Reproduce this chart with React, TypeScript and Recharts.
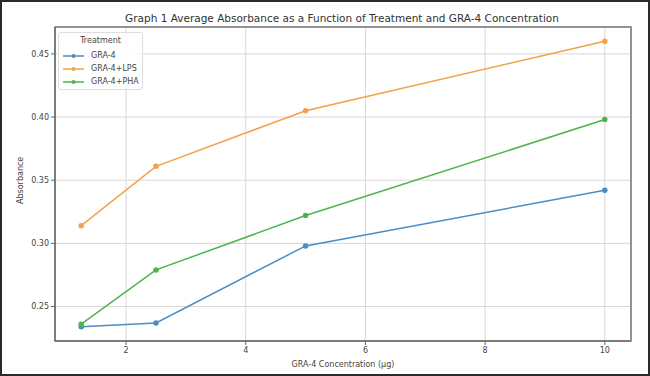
import { LineChart, Line, XAxis, YAxis, CartesianGrid, ReferenceArea } from 'recharts';

const concentrations = [1.25, 2.5, 5, 10];
const gra4 = [0.234, 0.237, 0.298, 0.342];
const gra4Lps = [0.314, 0.361, 0.405, 0.46];
const gra4Pha = [0.236, 0.279, 0.322, 0.398];
const xTicks = [2, 4, 6, 8, 10];
const yTicks = [0.25, 0.3, 0.35, 0.4, 0.45];

const seriesNames = ['GRA-4', 'GRA-4+LPS', 'GRA-4+PHA'];
const seriesColors = ['#4a8cc4', '#f5a04a', '#4db34d'];

const data = concentrations.map((c, i) => ({
  conc: c,
  a: gra4[i],
  b: gra4Lps[i],
  c: gra4Pha[i],
}));

const xDomain = [0.8125, 10.4375];
const yDomain = [0.2227, 0.4713];

const font = 'DejaVu Sans, sans-serif';

const TreatmentLegend = () => (
  <div
    style={{
      position: 'absolute',
      left: 58,
      top: 32,
      width: 85,
      height: 58,
      boxSizing: 'border-box',
      border: '1px solid #dddddd',
      borderRadius: 3,
      background: 'rgba(255,255,255,0.85)',
      fontFamily: font,
      fontSize: 8,
      color: '#444',
    }}
  >
    <div style={{ textAlign: 'center', marginTop: 3, height: 13 }}>Treatment</div>
    {seriesNames.map((name, i) => (
      <div key={name} style={{ display: 'flex', alignItems: 'center', height: 13 }}>
        <svg width={29} height={8} style={{ marginLeft: 3 }}>
          <line x1={1} y1={4} x2={22} y2={4} stroke={seriesColors[i]} strokeWidth={1.5} />
          <circle cx={11.5} cy={4} r={2} fill={seriesColors[i]} />
        </svg>
        <span>{name}</span>
      </div>
    ))}
  </div>
);

const App = () => {
  return (
    <div style={{ position: 'relative', width: 650, height: 376, background: '#fff' }}>
      <style>{'body{margin:0}'}</style>
      <LineChart width={650} height={376} data={data} margin={{ top: 27, right: 19, bottom: 0, left: 0 }}>
        <text x={342} y={22} textAnchor="middle" fontFamily={font} fontSize={10.5} fill="#333">
          Graph 1 Average Absorbance as a Function of Treatment and GRA-4 Concentration
        </text>
        <CartesianGrid stroke="#d8d8d8" strokeWidth={1} />
        <XAxis
          dataKey="conc"
          type="number"
          domain={xDomain}
          ticks={xTicks}
          height={35}
          tickSize={4}
          stroke="#666"
          tick={{ fontSize: 8, fontFamily: font, fill: '#444' }}
          label={{ value: 'GRA-4 Concentration (µg)', position: 'insideBottom', offset: 9, fontSize: 8, fontFamily: font, fill: '#444' }}
        />
        <YAxis
          type="number"
          domain={yDomain}
          ticks={yTicks}
          width={55}
          tickSize={4}
          stroke="#666"
          tickFormatter={(v: number) => v.toFixed(2)}
          tick={{ fontSize: 8, fontFamily: font, fill: '#444' }}
          label={{ value: 'Absorbance', angle: -90, position: 'insideLeft', offset: 20, dy: 20, fontSize: 8, fontFamily: font, fill: '#444' }}
        />
        <ReferenceArea x1={xDomain[0]} x2={xDomain[1]} y1={yDomain[0]} y2={yDomain[1]} fill="none" stroke="#777" strokeWidth={1.5} />
        {['a', 'b', 'c'].map((key, i) => (
          <Line
            key={key}
            dataKey={key}
            name={seriesNames[i]}
            stroke={seriesColors[i]}
            strokeWidth={1.5}
            dot={{ r: 2, fill: seriesColors[i], stroke: seriesColors[i] }}
            isAnimationActive={false}
          />
        ))}
      </LineChart>
      <TreatmentLegend />
      <div
        style={{
          position: 'absolute',
          left: 0,
          top: 0,
          width: 650,
          height: 376,
          boxSizing: 'border-box',
          border: '2px solid #2a2a2a',
          pointerEvents: 'none',
          zIndex: 5,
        }}
      />
    </div>
  );
};

export default App;
